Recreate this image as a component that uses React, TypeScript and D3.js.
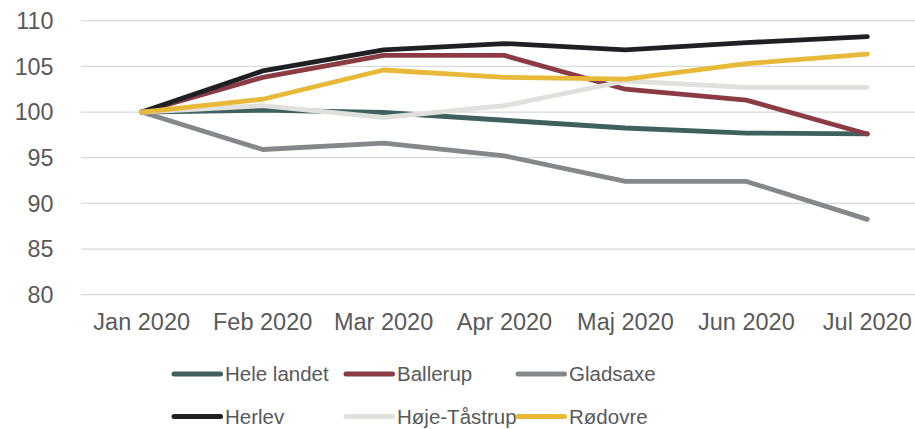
import React from "react";
import * as d3 from "d3";

const months = ["Jan 2020", "Feb 2020", "Mar 2020", "Apr 2020", "Maj 2020", "Jun 2020", "Jul 2020"];
const yTicks = [80, 85, 90, 95, 100, 105, 110];

const seriesNames = ["Hele landet", "Ballerup", "Gladsaxe", "Herlev", "Høje-Tåstrup", "Rødovre"];
const heleLandet = [100, 100.2, 99.95, 99.1, 98.25, 97.7, 97.6];
const ballerup = [100, 103.8, 106.2, 106.2, 102.5, 101.3, 97.6];
const gladsaxe = [100, 95.9, 96.6, 95.2, 92.4, 92.4, 88.25];
const herlev = [100, 104.5, 106.8, 107.5, 106.8, 107.6, 108.25];
const hojeTastrup = [100, 100.7, 99.4, 100.7, 103.4, 102.7, 102.7];
const rodovre = [100, 101.4, 104.6, 103.8, 103.6, 105.3, 106.35];
const seriesValues = [heleLandet, ballerup, gladsaxe, herlev, hojeTastrup, rodovre];
const colors = ["#3E615D", "#8A3B44", "#84888A", "#1E2024", "#E2E0DC", "#E8B838"];

const W = 915;
const H = 429;
const FONT = "'Liberation Sans', Arial, sans-serif";

export default function App() {
  const x = d3.scalePoint<string>().domain(months).range([141.7, 867.3]);
  const y = d3.scaleLinear().domain([80, 110]).range([294.7, 20.7]);
  const line = d3
    .line<number>()
    .x((_, i) => x(months[i]) as number)
    .y((d) => y(d));

  const legendX = [174, 346, 518];
  const legendY = [374, 416.5];

  return (
    <svg
      width={W}
      height={H}
      style={{ position: "absolute", left: 0, top: 0, background: "#fff" }}
      fontFamily={FONT}
    >
      {yTicks.map((t) => (
        <g key={t}>
          <line x1={81} x2={915} y1={y(t)} y2={y(t)} stroke="#D9D9D9" strokeWidth={1.3} />
          <text x={53.5} y={y(t)} dy="0.35em" textAnchor="end" fontSize={23.3} fill="#595959">
            {t}
          </text>
        </g>
      ))}
      {months.map((m) => (
        <text key={m} x={x(m)} y={330} textAnchor="middle" fontSize={23.5} fill="#595959">
          {m}
        </text>
      ))}
      {seriesValues.map((vals, i) => (
        <path
          key={seriesNames[i]}
          d={line(vals) || ""}
          fill="none"
          stroke={colors[i]}
          strokeWidth={4.8}
          strokeLinecap="round"
          strokeLinejoin="round"
        />
      ))}
      {seriesNames.map((name, i) => {
        const lx = legendX[i % 3];
        const ly = legendY[Math.floor(i / 3)];
        return (
          <g key={name}>
            <line x1={lx} x2={lx + 46.5} y1={ly} y2={ly} stroke={colors[i]} strokeWidth={5} strokeLinecap="round" />
            <text x={lx + 51} y={ly} dy="0.35em" fontSize={20.5} fill="#595959">
              {name}
            </text>
          </g>
        );
      })}
    </svg>
  );
}
